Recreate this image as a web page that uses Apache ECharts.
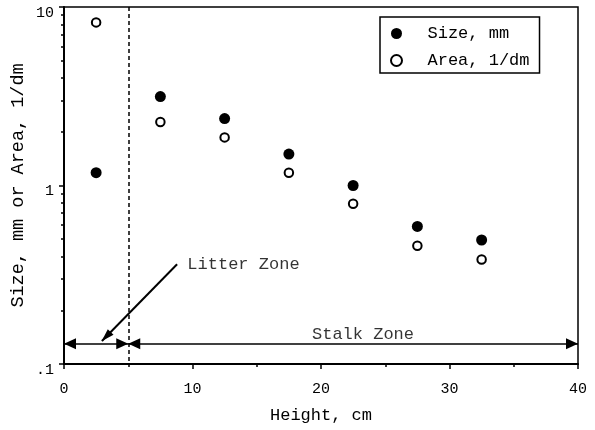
<!DOCTYPE html>
<html>
<head>
<meta charset="utf-8">
<script src="https://cdn.jsdelivr.net/npm/echarts@6/dist/echarts.min.js"></script>
<style>
  html, body { margin: 0; padding: 0; background: #fff; }
  #chart { width: 595px; height: 430px; }
</style>
</head>
<body>
<div id="chart"></div>
<script>
// Measurements by height above ground (midpoints of 5 cm layers)
const heights = [2.5, 7.5, 12.5, 17.5, 22.5, 27.5, 32.5];
const sizeMm = [1.18, 3.15, 2.37, 1.5, 1.0, 0.59, 0.495];
const areaPerDm = [8.2, 2.27, 1.86, 1.18, 0.79, 0.46, 0.385];

// Axis ticks
const xTickValues = [0, 10, 20, 30, 40];
const yTickValues = [0.1, 1, 10];
const yTickLabels = ['.1', '1', '10'];
const yMinorTicks = [0.2, 0.3, 0.4, 0.5, 0.6, 0.7, 0.8, 0.9, 2, 3, 4, 5, 6, 7, 8, 9];

// Zone annotations (height in cm, value on the log scale)
const zoneBoundary = 5;
const zoneArrowLevel = 0.13;
const litterZone = { from: 0, to: 5 };
const stalkZone = { from: 5, to: 40 };
const litterPointer = { from: [8.8, 0.362], to: [2.95, 0.1346] };
const litterLabel = { text: 'Litter Zone', at: [9.6, 0.363] };
const stalkLabel = { text: 'Stalk Zone', at: [23.27, 0.1454] };

const FONT = "'Liberation Mono', 'DejaVu Sans Mono', monospace";
const INK = '#000';

function pairs(xs, ys) {
  return xs.map((x, i) => [x, ys[i]]);
}

function yLabel(v) {
  const i = yTickValues.findIndex(t => Math.abs(t - v) / t < 1e-6);
  return i >= 0 ? yTickLabels[i] : '';
}

const chart = echarts.init(document.getElementById('chart'), null, { renderer: 'canvas' });

chart.setOption({
  animation: false,
  backgroundColor: '#fff',
  grid: {
    left: 64, right: 17, top: 7, bottom: 66,
    outerBoundsMode: 'none',
    containLabel: false,
    show: true, borderColor: INK, borderWidth: 1.5
  },
  legend: {
    orient: 'vertical',
    left: 380, top: 17,
    data: ['Size, mm', 'Area, 1/dm'],
    icon: 'circle',
    itemWidth: 14, itemHeight: 11, itemGap: 10,
    padding: [8, 10, 4, 10],
    borderColor: INK, borderWidth: 1.5, borderRadius: 0,
    backgroundColor: '#fff',
    selectedMode: false,
    textStyle: { fontFamily: FONT, fontSize: 17, color: INK, lineHeight: 17, padding: [0, 0, 0, 19] }
  },
  xAxis: {
    type: 'value',
    min: 0, max: 40, interval: 10,
    name: 'Height, cm',
    nameLocation: 'middle',
    nameGap: 43,
    nameMoveOverlap: false,
    nameTextStyle: { fontFamily: FONT, fontSize: 17, color: INK },
    axisLine: { lineStyle: { color: INK, width: 2 } },
    axisTick: { length: 5, lineStyle: { color: INK, width: 1.5 } },
    minorTick: { show: true, splitNumber: 2, length: 3, lineStyle: { color: INK, width: 1.5 } },
    splitLine: { show: false },
    axisLabel: {
      margin: 18, fontFamily: FONT, fontSize: 15, color: INK,
      customValues: xTickValues
    }
  },
  yAxis: [
    {
      type: 'log',
      logBase: 10,
      min: 0.1, max: 10,
      name: 'Size, mm or Area, 1/dm',
      nameLocation: 'middle',
      nameRotate: 90,
      nameGap: 36,
      nameMoveOverlap: false,
      nameTextStyle: { fontFamily: FONT, fontSize: 18.5, color: INK },
      axisLine: { show: true, lineStyle: { color: INK, width: 2 } },
      axisTick: { show: true, length: 5, customValues: yTickValues, lineStyle: { color: INK, width: 1.5 } },
      splitLine: { show: false },
      axisLabel: {
        margin: 10, fontFamily: FONT, fontSize: 15, color: INK,
        verticalAlign: 'top', lineHeight: 12,
        customValues: yTickValues,
        formatter: yLabel
      }
    },
    {
      type: 'log',
      logBase: 10,
      min: 0.1, max: 10,
      position: 'left',
      axisLine: { show: false },
      axisTick: { show: true, length: 3, customValues: yMinorTicks, lineStyle: { color: INK, width: 1.5 } },
      axisLabel: { show: false },
      splitLine: { show: false }
    }
  ],
  series: [
    {
      name: 'Size, mm',
      type: 'scatter',
      symbol: 'circle',
      symbolSize: 11,
      itemStyle: { color: INK, opacity: 1 },
      data: pairs(heights, sizeMm),
      z: 3
    },
    {
      name: 'Area, 1/dm',
      type: 'scatter',
      symbol: 'circle',
      symbolSize: 8.5,
      itemStyle: { color: '#fff', borderColor: INK, borderWidth: 2, opacity: 1 },
      data: pairs(heights, areaPerDm),
      z: 3
    },
    {
      name: 'zones',
      type: 'scatter',
      symbolSize: 0,
      silent: true,
      data: [
        { value: litterLabel.at, name: litterLabel.text,
          label: { position: 'right', distance: 0 } },
        { value: stalkLabel.at, name: stalkLabel.text,
          label: { position: 'inside' } }
      ],
      label: {
        show: true,
        formatter: p => p.name,
        fontFamily: FONT, fontSize: 17, color: INK
      },
      markLine: {
        silent: true,
        animation: false,
        label: { show: false },
        symbol: ['none', 'none'],
        lineStyle: { color: INK, width: 1.5, type: 'solid', opacity: 1 },
        itemStyle: { color: INK, opacity: 1 },
        data: [
          [
            { xAxis: zoneBoundary, y: 7, symbol: 'none',
              lineStyle: { type: [4, 3], width: 1.5, color: INK } },
            { xAxis: zoneBoundary, y: 364, symbol: 'none' }
          ],
          [
            { coord: [litterZone.from, zoneArrowLevel], symbol: 'triangle', symbolSize: [11, 12], symbolOffset: [0, 6] },
            { coord: [litterZone.to, zoneArrowLevel], symbol: 'triangle', symbolSize: [11, 12], symbolOffset: [0, 6] }
          ],
          [
            { coord: [stalkZone.from, zoneArrowLevel], symbol: 'triangle', symbolSize: [11, 12], symbolOffset: [0, 6] },
            { coord: [stalkZone.to, zoneArrowLevel], symbol: 'triangle', symbolSize: [11, 12], symbolOffset: [0, 6] }
          ],
          [
            { coord: litterPointer.from, symbol: 'none', lineStyle: { width: 2 } },
            { coord: litterPointer.to, symbol: 'triangle', symbolSize: [8, 13], symbolOffset: [0, 6] }
          ]
        ]
      }
    }
  ]
});
</script>
</body>
</html>
